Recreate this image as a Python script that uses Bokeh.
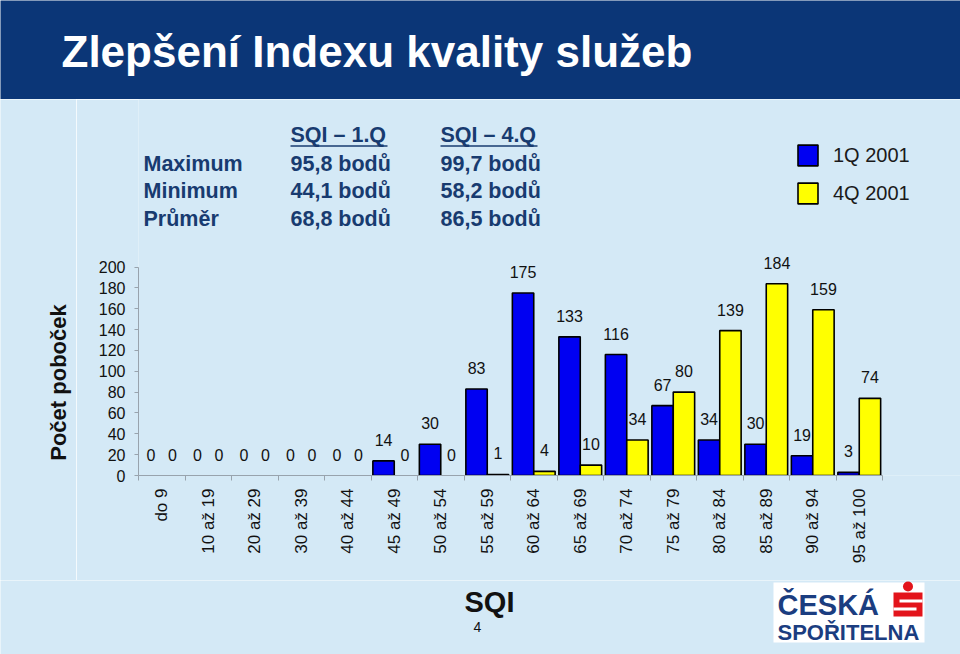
import math
from bokeh.plotting import figure
from bokeh.models import ColumnDataSource, FixedTicker, Range1d, Legend, LegendItem
from bokeh.layouts import column, row
from bokeh.core.properties import value
from bokeh.embed import file_html
from bokeh.resources import INLINE

# ---------------- data ----------------
title_text = "Zlepšení Indexu kvality služeb"
categories = ["do 9", "10 až 19", "20 až 29", "30 až 39", "40 až 44", "45 až 49",
              "50 až 54", "55 až 59", "60 až 64", "65 až 69", "70 až 74", "75 až 79",
              "80 až 84", "85 až 89", "90 až 94", "95 až 100"]
q1_2001 = [0, 0, 0, 0, 0, 14, 30, 83, 175, 133, 116, 67, 34, 30, 19, 3]
q4_2001 = [0, 0, 0, 0, 0, 0, 0, 1, 4, 10, 34, 80, 139, 184, 159, 74]
series_names = ["1Q 2001", "4Q 2001"]
y_ticks = [0, 20, 40, 60, 80, 100, 120, 140, 160, 180, 200]
y_label = "Počet poboček"
x_label = "SQI"
table_headers = ["SQI – 1.Q", "SQI – 4.Q"]
table_rows = ["Maximum", "Minimum", "Průměr"]
table_q1 = ["95,8 bodů", "44,1 bodů", "68,8 bodů"]
table_q4 = ["99,7 bodů", "58,2 bodů", "86,5 bodů"]
page_number = "4"
logo_lines = ["ČESKÁ", "SPOŘITELNA"]

# ---------------- style / layout ----------------
FONT = value("Liberation Sans")
W = 960
BG = "#D4E9F6"
NAVY = "#0B3677"
TABLE_NAVY = "#183B70"
GRAY = "#98A3AD"
BLUE = "#0000F2"
YELLOW = "#FFFF00"
RED = "#E3141B"
HEADER_H = 99
MAIN_H = 481
FOOTER_H = 74
SIDE_W = 76          # strip holding the y axis title
FRAME_LEFT = 138     # page x of the chart's y axis
FRAME_H = 376
PX_PER_CAT = 46.5
PX_PER_UNIT = 208.5 / 200.0
REF_X0, REF_Y0 = 138.0, 475.0   # page position of the chart origin


def fx(px):
    return (px - REF_X0) / PX_PER_CAT


def fy(py):
    return (REF_Y0 - py) / PX_PER_UNIT


def blank(width, height, color):
    fig = figure(width=width, height=height, x_range=Range1d(0, width),
                 y_range=Range1d(0, height), x_axis_location=None, y_axis_location=None,
                 min_border=0, frame_align=False, toolbar_location=None,
                 output_backend="svg", title=None, background_fill_color=color,
                 border_fill_color=color, outline_line_color=None)
    fig.grid.visible = False
    return fig


# ---------------- header ----------------
h = blank(W, HEADER_H, NAVY)
h.text(x=[61], y=[HEADER_H - 51], text=[title_text], text_font=FONT, text_font_style="bold",
       text_font_size="44px", text_color="white", text_baseline="middle", text_align="left")

# ---------------- y axis title strip ----------------
s = blank(SIDE_W, MAIN_H, BG)
s.text(x=[58], y=[MAIN_H - (382 - HEADER_H)], text=[y_label], angle=math.pi / 2,
       text_font=FONT, text_font_style="bold", text_font_size="22px", text_color="#111111",
       text_align="center", text_baseline="middle")

# ---------------- main chart ----------------
n = len(categories)
centers = [i + 0.5 for i in range(n)]
bar_w = 0.46
src = ColumnDataSource(dict(
    cat=categories,
    x1=[c - bar_w / 2 for c in centers],
    x4=[c + bar_w / 2 for c in centers],
    q1=q1_2001,
    q4=q4_2001,
    l1=[str(v) for v in q1_2001],
    l4=[str(v) for v in q4_2001],
    a1=[1.0 if v > 0 else 0.0 for v in q1_2001],
    a4=[1.0 if v > 0 else 0.0 for v in q4_2001],
))

p = figure(width=W - SIDE_W, height=MAIN_H,
           x_range=Range1d(0, (W - FRAME_LEFT) / PX_PER_CAT),
           y_range=Range1d(0, FRAME_H / PX_PER_UNIT),
           output_backend="svg", toolbar_location=None, title=None, frame_align=False,
           min_border_left=FRAME_LEFT - SIDE_W, min_border_right=0, min_border_top=0,
           min_border_bottom=MAIN_H - FRAME_H,
           background_fill_color=BG, border_fill_color=BG, outline_line_color=None)
p.xgrid.visible = False
p.ygrid.visible = False

r1 = p.vbar(x="x1", top="q1", bottom=0, width=bar_w, source=src, fill_color=BLUE,
            line_color="black", line_width=1.6, line_alpha="a1", fill_alpha="a1")
r4 = p.vbar(x="x4", top="q4", bottom=0, width=bar_w, source=src, fill_color=YELLOW,
            line_color="black", line_width=1.6, line_alpha="a4", fill_alpha="a4")
for xc, yc, lc in (("x1", "q1", "l1"), ("x4", "q4", "l4")):
    p.text(x=xc, y=yc, text=lc, source=src, text_font=FONT, text_font_size="16px",
           text_color="#111111", text_align="center", text_baseline="middle", y_offset=-21)

xa = p.xaxis[0]
xa.ticker = FixedTicker(ticks=centers, minor_ticks=[float(i) for i in range(n + 1)])
xa.major_label_overrides = {c: lab for c, lab in zip(centers, categories)}
xa.bounds = (0, n)
xa.axis_line_color = GRAY
xa.major_tick_line_color = None
xa.major_tick_out = 5
xa.major_tick_in = 0
xa.minor_tick_line_color = GRAY
xa.minor_tick_out = 5
xa.minor_tick_in = 0
xa.major_label_orientation = math.pi / 2
xa.major_label_standoff = 8
xa.major_label_text_font = "Liberation Sans"
xa.major_label_text_font_size = "17px"
xa.major_label_text_color = "#111111"

ya = p.yaxis[0]
ya.ticker = FixedTicker(ticks=y_ticks)
ya.bounds = (0, 200)
ya.axis_line_color = GRAY
ya.major_tick_line_color = GRAY
ya.major_tick_out = 4
ya.major_tick_in = 0
ya.minor_tick_line_color = None
ya.major_label_standoff = 9
ya.major_label_text_font = "Liberation Sans"
ya.major_label_text_font_size = "16px"
ya.major_label_text_color = "#111111"

# legend
first1 = next(i for i, v in enumerate(q1_2001) if v > 0)
first4 = next(i for i, v in enumerate(q4_2001) if v > 0)
legend = Legend(items=[LegendItem(label=series_names[0], renderers=[r1], index=first1),
                       LegendItem(label=series_names[1], renderers=[r4], index=first4)],
                location=(795 - REF_X0, REF_Y0 - 206),
                glyph_width=25, glyph_height=26, label_height=26, label_standoff=13,
                spacing=12, padding=0, margin=0, border_line_color=None,
                background_fill_alpha=0, label_text_font="Liberation Sans",
                label_text_font_size="20px", label_text_color="#1a1a1a")
p.add_layout(legend)

# statistics table (positions relative to the page, converted to data units)
row_mid = [163, 190.5, 218]
tstyle = dict(text_font=FONT, text_font_style="bold", text_font_size="21.5px",
              text_color=TABLE_NAVY, text_baseline="middle")
p.text(x=[fx(143)] * 3, y=[fy(b) for b in row_mid], text=table_rows, **tstyle)
for col_x, head, vals in ((290, table_headers[0], table_q1), (440, table_headers[1], table_q4)):
    p.text(x=[fx(col_x)] * 3, y=[fy(b) for b in row_mid], text=vals, **tstyle)
    p.text(x=[fx(col_x)], y=[fy(134)], text=[head], **tstyle)
    p.segment(x0=[fx(col_x)], y0=[fy(145.5)], x1=[fx(col_x + 97)], y1=[fy(145.5)],
              line_color=TABLE_NAVY, line_width=1.6)

# ---------------- footer ----------------
f = blank(W, FOOTER_H, BG)
FT = 654.0  # page y of footer bottom


def gy(py):
    return FT - py


f.text(x=[489], y=[gy(601)], text=[x_label], text_font=FONT, text_font_style="bold",
       text_font_size="29px", text_color="#111111", text_align="center",
       text_baseline="middle")
f.text(x=[477], y=[gy(626)], text=[page_number], text_font=FONT,
       text_font_size="14px", text_color="#111111", text_align="center",
       text_baseline="middle")
# logo
f.quad(left=[773], right=[924], bottom=[gy(642)], top=[gy(582)],
       fill_color="white", line_color=None)
f.text(x=[777], y=[gy(604)], text=[logo_lines[0]], text_font=FONT,
       text_font_style="bold", text_font_size="29px", text_color="#1B3D80",
       text_baseline="middle")
f.text(x=[777], y=[gy(632)], text=[logo_lines[1]], text_font=FONT,
       text_font_style="bold", text_font_size="22px", text_color="#1B3D80",
       text_baseline="middle")
f.quad(left=[893], right=[922], bottom=[gy(616)], top=[gy(592)],
       fill_color=RED, line_color=None)
f.quad(left=[899], right=[922], bottom=[gy(602)], top=[gy(599)],
       fill_color="white", line_color=None)
f.quad(left=[893], right=[916], bottom=[gy(610)], top=[gy(607)],
       fill_color="white", line_color=None)
f.scatter(x=[907.5], y=[gy(586)], size=10, marker="circle", fill_color=RED,
          line_color=None)

layout = column(h, row(s, p, spacing=0), f, spacing=0)
open("out.html", "w").write(file_html(layout, INLINE))
